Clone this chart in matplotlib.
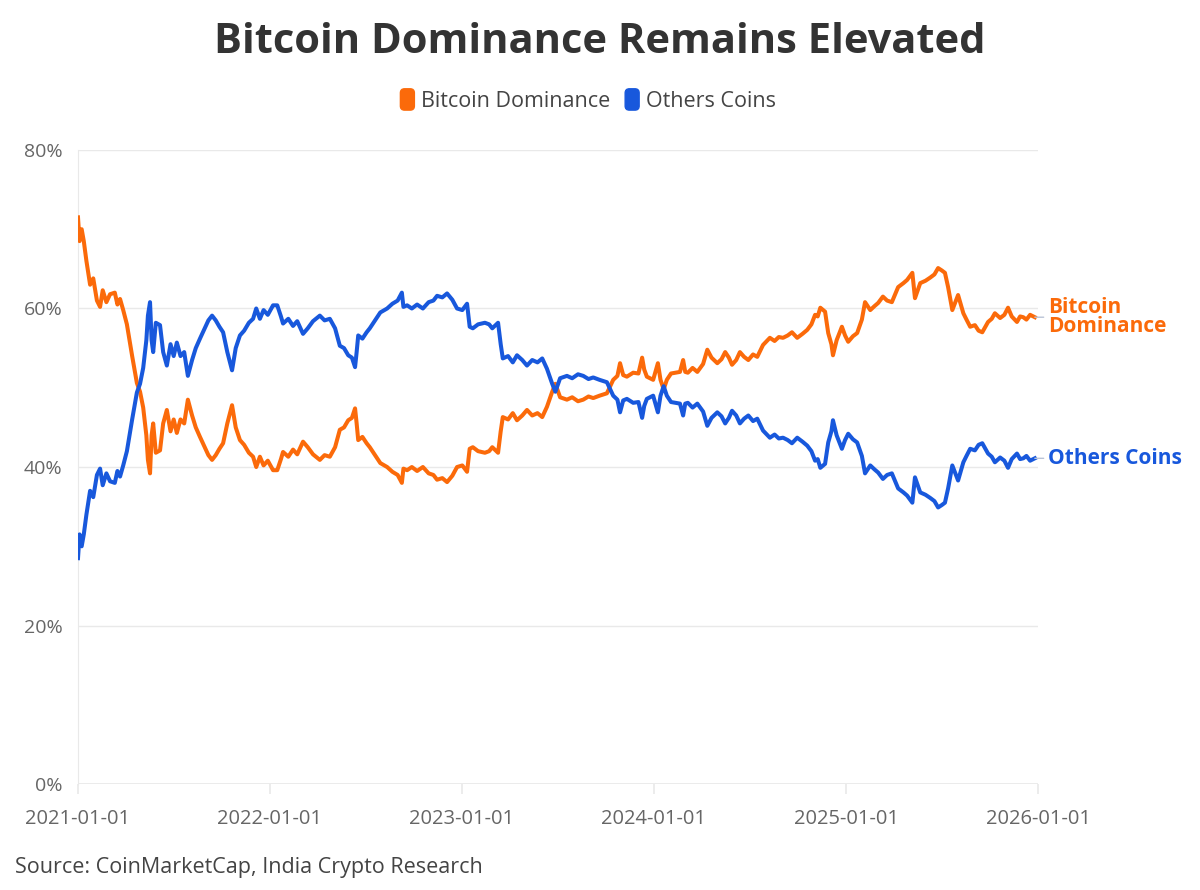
import matplotlib
matplotlib.use("Agg")
import matplotlib.pyplot as plt
import matplotlib.patches as mpatches
from matplotlib.legend_handler import HandlerPatch
import pandas as pd

plt.rcParams['font.family'] = ['Open Sans', 'DejaVu Sans']

# data (share of total crypto market cap, %)
dates = [
    "2021-01-01", "2021-01-04", "2021-01-08", "2021-01-12", "2021-01-17", "2021-01-24", "2021-01-30",
    "2021-02-06", "2021-02-12", "2021-02-17", "2021-02-24", "2021-03-03", "2021-03-12", "2021-03-17",
    "2021-03-22", "2021-03-28", "2021-04-04", "2021-04-14", "2021-04-23", "2021-04-29", "2021-05-05",
    "2021-05-11", "2021-05-14", "2021-05-18", "2021-05-21", "2021-05-24", "2021-05-29", "2021-06-06",
    "2021-06-12", "2021-06-19", "2021-06-26", "2021-07-02", "2021-07-08", "2021-07-15", "2021-07-22",
    "2021-07-29", "2021-08-06", "2021-08-13", "2021-08-21", "2021-08-30", "2021-09-06", "2021-09-13",
    "2021-09-20", "2021-09-27", "2021-10-04", "2021-10-12", "2021-10-21", "2021-10-28", "2021-11-05",
    "2021-11-13", "2021-11-22", "2021-11-30", "2021-12-06", "2021-12-13", "2021-12-20", "2021-12-28",
    "2022-01-07", "2022-01-15", "2022-01-22", "2022-01-26", "2022-02-05", "2022-02-14", "2022-02-22",
    "2022-03-05", "2022-03-14", "2022-03-24", "2022-04-06", "2022-04-15", "2022-04-25", "2022-05-05",
    "2022-05-14", "2022-05-22", "2022-05-30", "2022-06-06", "2022-06-12", "2022-06-15", "2022-06-18",
    "2022-06-26", "2022-07-04", "2022-07-10", "2022-07-20", "2022-07-30", "2022-08-12", "2022-08-22",
    "2022-09-01", "2022-09-09", "2022-09-12", "2022-09-19", "2022-09-28", "2022-10-08", "2022-10-19",
    "2022-10-30", "2022-11-08", "2022-11-15", "2022-11-25", "2022-12-04", "2022-12-14", "2022-12-23",
    "2023-01-02", "2023-01-11", "2023-01-16", "2023-01-22", "2023-02-01", "2023-02-14", "2023-02-22",
    "2023-02-28", "2023-03-11", "2023-03-16", "2023-03-20", "2023-03-30", "2023-04-08", "2023-04-16",
    "2023-04-26", "2023-05-05", "2023-05-15", "2023-05-25", "2023-06-03", "2023-06-12", "2023-06-22",
    "2023-06-28", "2023-07-07", "2023-07-20", "2023-07-30", "2023-08-10", "2023-08-20", "2023-08-30",
    "2023-09-08", "2023-09-20", "2023-10-04", "2023-10-16", "2023-10-24", "2023-10-29", "2023-11-04",
    "2023-11-11", "2023-11-23", "2023-12-03", "2023-12-10", "2023-12-14", "2023-12-19", "2023-12-31",
    "2024-01-09", "2024-01-14", "2024-01-20", "2024-01-26", "2024-02-03", "2024-02-11", "2024-02-20",
    "2024-02-26", "2024-03-01", "2024-03-06", "2024-03-15", "2024-03-24", "2024-04-04", "2024-04-12",
    "2024-04-20", "2024-05-01", "2024-05-09", "2024-05-16", "2024-05-23", "2024-05-29", "2024-06-06",
    "2024-06-13", "2024-06-21", "2024-06-29", "2024-07-08", "2024-07-16", "2024-07-27", "2024-08-09",
    "2024-08-18", "2024-08-26", "2024-09-03", "2024-09-12", "2024-09-20", "2024-09-30", "2024-10-10",
    "2024-10-19", "2024-10-27", "2024-11-03", "2024-11-08", "2024-11-13", "2024-11-22", "2024-11-28",
    "2024-12-04", "2024-12-07", "2024-12-14", "2024-12-24", "2024-12-30", "2025-01-05", "2025-01-14",
    "2025-01-22", "2025-01-31", "2025-02-06", "2025-02-16", "2025-02-24", "2025-03-03", "2025-03-12",
    "2025-03-20", "2025-03-29", "2025-04-10", "2025-04-20", "2025-04-27", "2025-05-07", "2025-05-12",
    "2025-05-22", "2025-06-01", "2025-06-10", "2025-06-18", "2025-06-25", "2025-07-02", "2025-07-08",
    "2025-07-14", "2025-07-22", "2025-08-02", "2025-08-12", "2025-08-18", "2025-08-25", "2025-09-03",
    "2025-09-10", "2025-09-17", "2025-09-28", "2025-10-05", "2025-10-11", "2025-10-21", "2025-10-29",
    "2025-11-05", "2025-11-12", "2025-11-22", "2025-11-28", "2025-12-04", "2025-12-10", "2025-12-17",
    "2025-12-26",
]

btc_dominance = [
    71.5, 68.5, 70.0, 68.5, 66.0, 63.0, 63.8,
    61.0, 60.2, 62.3, 60.8, 61.8, 62.0, 60.5,
    61.2, 59.8, 58.0, 54.0, 50.6, 49.5, 47.5,
    44.0, 40.9, 39.2, 44.0, 45.5, 41.8, 42.1,
    45.5, 47.2, 44.5, 46.0, 44.3, 46.0, 45.5,
    48.5, 46.5, 45.0, 43.8, 42.5, 41.5, 40.9,
    41.5, 42.3, 43.0, 45.5, 47.8, 45.0, 43.4,
    42.8, 41.8, 41.3, 40.0, 41.3, 40.2, 40.8,
    39.6, 39.6, 41.0, 41.9, 41.3, 42.2, 41.6,
    43.2, 42.5, 41.6, 40.9, 41.5, 41.3, 42.5,
    44.7, 45.0, 45.9, 46.2, 47.4, 45.5, 43.4,
    43.8, 43.0, 42.5, 41.5, 40.5, 40.0, 39.4,
    39.0, 38.0, 39.8, 39.6, 40.0, 39.5, 40.0,
    39.2, 39.0, 38.4, 38.6, 38.1, 38.9, 40.0,
    40.2, 39.4, 42.3, 42.5, 42.0, 41.8, 42.0,
    42.5, 41.8, 44.5, 46.3, 46.0, 46.8, 45.9,
    46.5, 47.2, 46.5, 46.8, 46.3, 47.6, 49.5,
    50.5, 48.8, 48.5, 48.8, 48.3, 48.5, 48.9,
    48.7, 49.0, 49.3, 51.0, 51.5, 53.1, 51.6,
    51.4, 51.9, 51.8, 53.8, 52.3, 51.4, 51.0,
    53.1, 51.0, 49.8, 51.0, 51.8, 51.9, 52.0,
    53.5, 52.0, 51.9, 52.5, 52.0, 53.0, 54.8,
    53.8, 53.1, 53.6, 54.5, 53.8, 52.9, 53.5,
    54.5, 53.9, 53.5, 54.2, 53.9, 55.4, 56.3,
    55.9, 56.4, 56.3, 56.6, 57.0, 56.3, 56.8,
    57.3, 58.0, 59.2, 59.0, 60.1, 59.6, 56.9,
    55.5, 54.1, 56.0, 57.7, 56.6, 55.8, 56.5,
    56.9, 58.6, 60.8, 59.8, 60.3, 60.7, 61.5,
    61.0, 60.8, 62.7, 63.2, 63.6, 64.5, 61.3,
    63.2, 63.5, 63.9, 64.3, 65.1, 64.8, 64.5,
    62.7, 59.8, 61.7, 59.4, 58.6, 57.7, 57.9,
    57.2, 57.0, 58.3, 58.7, 59.4, 58.8, 59.2,
    60.1, 59.0, 58.3, 59.0, 58.9, 58.6, 59.2,
    58.9,
]

others_coins = [
    28.5, 31.5, 30.0, 31.5, 34.0, 37.0, 36.2,
    39.0, 39.8, 37.7, 39.2, 38.2, 38.0, 39.5,
    38.8, 40.2, 42.0, 46.0, 49.4, 50.5, 52.5,
    56.0, 59.1, 60.8, 56.0, 54.5, 58.2, 57.9,
    54.5, 52.8, 55.5, 54.0, 55.7, 54.0, 54.5,
    51.5, 53.5, 55.0, 56.2, 57.5, 58.5, 59.1,
    58.5, 57.7, 57.0, 54.5, 52.2, 55.0, 56.6,
    57.2, 58.2, 58.7, 60.0, 58.7, 59.8, 59.2,
    60.4, 60.4, 59.0, 58.1, 58.7, 57.8, 58.4,
    56.8, 57.5, 58.4, 59.1, 58.5, 58.7, 57.5,
    55.3, 55.0, 54.1, 53.8, 52.6, 54.5, 56.6,
    56.2, 57.0, 57.5, 58.5, 59.5, 60.0, 60.6,
    61.0, 62.0, 60.2, 60.4, 60.0, 60.5, 60.0,
    60.8, 61.0, 61.6, 61.4, 61.9, 61.1, 60.0,
    59.8, 60.6, 57.7, 57.5, 58.0, 58.2, 58.0,
    57.5, 58.2, 55.5, 53.7, 54.0, 53.2, 54.1,
    53.5, 52.8, 53.5, 53.2, 53.7, 52.4, 50.5,
    49.5, 51.2, 51.5, 51.2, 51.7, 51.5, 51.1,
    51.3, 51.0, 50.7, 49.0, 48.5, 46.9, 48.4,
    48.6, 48.1, 48.2, 46.2, 47.7, 48.6, 49.0,
    46.9, 49.0, 50.2, 49.0, 48.2, 48.1, 48.0,
    46.5, 48.0, 48.1, 47.5, 48.0, 47.0, 45.2,
    46.2, 46.9, 46.4, 45.5, 46.2, 47.1, 46.5,
    45.5, 46.1, 46.5, 45.8, 46.1, 44.6, 43.7,
    44.1, 43.6, 43.7, 43.4, 43.0, 43.7, 43.2,
    42.7, 42.0, 40.8, 41.0, 39.9, 40.4, 43.1,
    44.5, 45.9, 44.0, 42.3, 43.4, 44.2, 43.5,
    43.1, 41.4, 39.2, 40.2, 39.7, 39.3, 38.5,
    39.0, 39.2, 37.3, 36.8, 36.4, 35.5, 38.7,
    36.8, 36.5, 36.1, 35.7, 34.9, 35.2, 35.5,
    37.3, 40.2, 38.3, 40.6, 41.4, 42.3, 42.1,
    42.8, 43.0, 41.7, 41.3, 40.6, 41.2, 40.8,
    39.9, 41.0, 41.7, 41.0, 41.1, 41.4, 40.8,
    41.1,
]

series_names = ["Bitcoin Dominance", "Others Coins"]
end_labels = ["Bitcoin\nDominance", "Others Coins"]
year_ticks = ["2021-01-01", "2022-01-01", "2023-01-01", "2024-01-01", "2025-01-01", "2026-01-01"]
y_ticks = [0, 20, 40, 60, 80]

ORANGE = "#fb6a0a"
BLUE = "#1858dc"
GRID = "#e9e9e9"
TICK_GREY = "#666666"

x = pd.to_datetime(dates)
ticks = pd.to_datetime(year_ticks)

fig = plt.figure(figsize=(12, 8.9), dpi=100)
ax = fig.add_axes([0.065, 0.119, 0.8, 0.7125])

for vals, col in zip([btc_dominance, others_coins], [ORANGE, BLUE]):
    ax.plot(x, vals, color=col, lw=2.9, solid_joinstyle='round', zorder=3)

ax.set_xlim(ticks[0], ticks[-1])
ax.set_ylim(0, 80)
ax.set_yticks(y_ticks)
ax.set_yticklabels([f"{v}%" for v in y_ticks])
ax.set_xticks(ticks)
ax.set_xticklabels(year_ticks)
ax.grid(axis='y', color=GRID, lw=1.0)
ax.set_axisbelow(True)

for s in ['top', 'right', 'bottom']:
    ax.spines[s].set_visible(False)
ax.spines['left'].set_color(GRID)
ax.axhline(0, color=GRID, lw=1.2, zorder=1)
ax.tick_params(axis='y', length=0, pad=11, labelsize=14, labelcolor=TICK_GREY)
ax.tick_params(axis='x', length=7, color=GRID, width=1.2, pad=11, labelsize=14.5, labelcolor=TICK_GREY)

# end-of-line labels
for vals, lab, col in zip([btc_dominance, others_coins], end_labels, [ORANGE, BLUE]):
    ax.annotate(lab, xy=(x[-1], vals[-1]), xytext=(13, 0), textcoords='offset pixels',
                ha='left', va='center', color=col, fontsize=15, fontweight='bold',
                linespacing=0.9, annotation_clip=False,
                arrowprops=dict(arrowstyle='-', color='#b9c3d6', lw=1.0, shrinkA=1, shrinkB=0))


def rounded_key(legend, orig_handle, xdescent, ydescent, width, height, fontsize):
    return mpatches.FancyBboxPatch((-xdescent, -ydescent - 2), width, height + 4,
                                   boxstyle="round,pad=0,rounding_size=3")


handles = [mpatches.Patch(color=c) for c in [ORANGE, BLUE]]
fig.legend(handles, series_names, loc='center', bbox_to_anchor=(0.49, 0.886), ncol=2,
           frameon=False, fontsize=15.5, handlelength=0.65, handleheight=0.75,
           handletextpad=0.3, columnspacing=0.7, labelcolor='#444444',
           handler_map={mpatches.Patch: HandlerPatch(patch_func=rounded_key)})

fig.text(0.5, 0.952, "Bitcoin Dominance Remains Elevated", ha='center', va='center',
         fontsize=30, fontweight='bold', color='#333333')
fig.text(0.0125, 0.025, "Source: CoinMarketCap, India Crypto Research", ha='left', va='center',
         fontsize=15.5, color='#444444')

fig.savefig("out.png", dpi=100)
